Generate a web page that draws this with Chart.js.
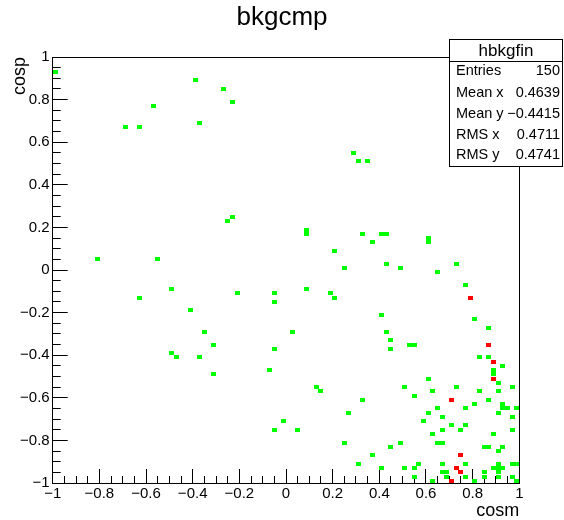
<!DOCTYPE html>
<html>
<head>
<meta charset="utf-8">
<script src="https://cdn.jsdelivr.net/npm/chart.js@4.4.1/dist/chart.umd.min.js"></script>
<style>
  html, body { margin: 0; padding: 0; background: #fff; }
</style>
</head>
<body>
<canvas id="chart" width="564" height="520"></canvas>
<script>
// Filled bins of hbkgfin (bin centres, 0.02 wide) - one entry
const greenCosm = [
  -0.99, -0.39, -0.27, -0.23, -0.57, -0.69, -0.63, -0.37, -0.25, -0.23,
  -0.81, -0.55, -0.49, -0.63, -0.21, -0.05, -0.05, -0.41, -0.35, -0.31,
  -0.49, -0.47, -0.37, -0.05, -0.31, -0.07, -0.05,
  0.29, 0.31, 0.35, 0.09, 0.09, 0.33, 0.41, 0.43, 0.37, 0.61, 0.61,
  0.21, 0.25, 0.43, 0.49, 0.65, 0.73, 0.77, 0.09, 0.19, 0.21,
  0.41, 0.81, 0.87, 0.43, 0.45, 0.45, 0.53, 0.55, 0.83, 0.87, 0.93,
  0.89, 0.89, 0.91, 0.61, 0.51, 0.73, 0.97, 0.55, 0.63, 0.83, 0.91,
  0.87, 0.81, 0.93, 0.93, 0.95, 0.99, 0.65, 0.77, 0.61, 0.91,
  0.67, 0.97, 0.59, 0.71, 0.77, 0.67, 0.75, 0.97, 0.63, 0.89,
  0.49, 0.65, 0.67, 0.45, 0.85, 0.87, 0.93, 0.91, 0.37,
  0.57, 0.67, 0.77, 0.91, 0.97, 0.99, 0.41, 0.51, 0.55, 0.89, 0.91, 0.93,
  0.77, 0.55, 0.63, 0.81, 0.85, 0.85, 0.91, 0.91, 0.97, 0.99,
  0.03, 0.13, 0.15, 0.33, 0.27, -0.01, 0.05, 0.25, 0.31,
  0.67, 0.69, 0.69
];
const greenCosp = [
  0.93, 0.89, 0.85, 0.79, 0.77, 0.67, 0.67, 0.69, 0.23, 0.25,
  0.05, 0.05, -0.09, -0.13, -0.11, -0.11, -0.15, -0.19, -0.29, -0.35,
  -0.39, -0.41, -0.41, -0.37, -0.49, -0.47, -0.75,
  0.55, 0.51, 0.51, 0.19, 0.17, 0.17, 0.17, 0.17, 0.13, 0.15, 0.13,
  0.09, 0.01, 0.03, 0.01, -0.01, 0.03, -0.07, -0.09, -0.11, -0.13,
  -0.21, -0.23, -0.27, -0.29, -0.33, -0.37, -0.35, -0.35, -0.41, -0.41, -0.45,
  -0.47, -0.49, -0.53, -0.51, -0.55, -0.55, -0.55, -0.59, -0.57, -0.57, -0.57,
  -0.61, -0.63, -0.63, -0.65, -0.65, -0.65, -0.65, -0.65, -0.67, -0.67,
  -0.69, -0.69, -0.71, -0.73, -0.73, -0.75, -0.75, -0.75, -0.77, -0.77,
  -0.81, -0.81, -0.81, -0.83, -0.83, -0.83, -0.83, -0.85, -0.87,
  -0.91, -0.91, -0.91, -0.91, -0.91, -0.91, -0.93, -0.93, -0.93, -0.93, -0.93, -0.93,
  -0.97, -0.97, -0.99, -0.99, -0.95, -0.97, -0.95, -0.97, -0.97, -0.99,
  -0.29, -0.55, -0.57, -0.61, -0.67, -0.71, -0.75, -0.81, -0.91,
  -0.95, -0.95, -0.97
];

// Bins with two entries
const redCosm = [0.79, 0.87, 0.89, 0.89, 0.71, 0.75, 0.73, 0.75, 0.71];
const redCosp = [-0.13, -0.35, -0.43, -0.51, -0.61, -0.87, -0.93, -0.95, -0.99];

// Stats box
const statLabels = ['Entries', 'Mean x', 'Mean y', 'RMS x', 'RMS y'];
const statValues = ['150', '0.4639', '\u22120.4415', '0.4711', '0.4741'];

const FONT = "'Liberation Sans', Arial, Helvetica, sans-serif";

function toPoints(xs, ys) {
    return xs.map((x, i) => ({ x: x, y: ys[i] }));
}

// one histogram bin drawn as a small filled box
function cellImage(color) {
    const c = document.createElement('canvas');
    c.width = 5;
    c.height = 4;
    const g = c.getContext('2d');
    g.fillStyle = color;
    g.fillRect(0, 0, 5, 4);
    return c;
}

function fmtTick(v) {
    const r = Math.round(v * 10) / 10;
    return r < 0 ? '\u2212' + String(-r) : String(r === 0 ? 0 : r);
}

const statsBox = {
    id: 'statsBox',
    afterDraw(chart) {
        const ctx = chart.ctx;
        const left = 449.5, top = 39.5, right = 562.5, bottom = 166.5;
        ctx.save();
        ctx.fillStyle = '#fff';
        ctx.fillRect(left, top, right - left, bottom - top);
        ctx.strokeStyle = '#000';
        ctx.lineWidth = 1;
        ctx.strokeRect(left, top, right - left, bottom - top);
        ctx.beginPath();
        ctx.moveTo(left, 61.5);
        ctx.lineTo(right, 61.5);
        ctx.stroke();

        ctx.fillStyle = '#000';
        ctx.textBaseline = 'middle';
        ctx.textAlign = 'center';
        ctx.font = '17px ' + FONT;
        ctx.fillText('hbkgfin', (left + right) / 2, 51);

        ctx.font = '14.5px ' + FONT;
        const rows = [71, 92.5, 113.5, 134.5, 155];
        statLabels.forEach((lab, i) => {
            ctx.textAlign = 'left';
            ctx.fillText(lab, 456, rows[i]);
            ctx.textAlign = 'right';
            ctx.fillText(statValues[i], 560, rows[i]);
        });
        ctx.restore();
    }
};

const minorX = {
    type: 'linear', position: 'bottom', axis: 'x', min: -1, max: 1, weight: 0,
    ticks: { display: false, stepSize: 0.05 },
    grid: { drawOnChartArea: false, drawTicks: true, tickLength: -7, tickColor: '#000', tickWidth: 1 },
    border: { display: false },
    afterFit: s => { s.height = 0; }
};
const minorY = {
    type: 'linear', position: 'left', axis: 'y', min: -1, max: 1, weight: 0,
    ticks: { display: false, stepSize: 0.05 },
    grid: { drawOnChartArea: false, drawTicks: true, tickLength: -8, tickColor: '#000', tickWidth: 1 },
    border: { display: false },
    afterFit: s => { s.width = 0; }
};

new Chart(document.getElementById('chart'), {
    type: 'scatter',
    data: {
        datasets: [
            {
                label: '1',
                data: toPoints(greenCosm, greenCosp),
                pointStyle: cellImage('#00ff00'),
                pointRadius: 3,
                pointHoverRadius: 3
            },
            {
                label: '2',
                data: toPoints(redCosm, redCosp),
                pointStyle: cellImage('#ff0000'),
                pointRadius: 3,
                pointHoverRadius: 3
            }
        ]
    },
    options: {
        responsive: false,
        animation: false,
        events: [],
        devicePixelRatio: 1,
        layout: { padding: 0 },
        plugins: {
            legend: { display: false },
            tooltip: { enabled: false },
            title: {
                display: true,
                text: 'bkgcmp',
                color: '#000',
                font: { family: FONT, size: 26, weight: 'normal', lineHeight: 1.2 },
                padding: { top: 2, bottom: 23.8 }
            }
        },
        scales: {
            xMinor: minorX,
            x: {
                type: 'linear', position: 'bottom', min: -1, max: 1, weight: 1,
                ticks: {
                    stepSize: 0.2, autoSkip: false, maxRotation: 0, padding: 16,
                    color: '#000', font: { family: FONT, size: 15 }, callback: fmtTick
                },
                grid: { drawOnChartArea: false, drawTicks: true, tickLength: -14, tickColor: '#000', tickWidth: 1 },
                border: { display: true, color: '#000', width: 1 },
                title: {
                    display: true, text: 'cosm', align: 'end', color: '#000',
                    font: { family: FONT, size: 18, lineHeight: 1 },
                    padding: { top: 0, bottom: 0 }
                },
                afterFit: s => { s.height = 37; }
            },
            yMinor: minorY,
            y: {
                type: 'linear', position: 'left', min: -1, max: 1, weight: 1,
                ticks: {
                    stepSize: 0.2, autoSkip: false, padding: 18,
                    color: '#000', font: { family: FONT, size: 15 }, callback: fmtTick
                },
                grid: { drawOnChartArea: false, drawTicks: true, tickLength: -15, tickColor: '#000', tickWidth: 1 },
                border: { display: true, color: '#000', width: 1 },
                title: {
                    display: true, text: 'cosp', align: 'end', color: '#000',
                    font: { family: FONT, size: 18, lineHeight: 1 },
                    padding: { top: 11.5, bottom: 0 }
                },
                afterFit: s => { s.width = 52.7; }
            },
            // frame on the top and right sides
            xTop: {
                type: 'linear', position: 'top', axis: 'x', min: -1, max: 1,
                ticks: { display: false }, grid: { display: false },
                border: { display: true, color: '#000', width: 1 },
                afterFit: s => { s.height = 0; }
            },
            yRight: {
                type: 'linear', position: 'right', axis: 'y', min: -1, max: 1,
                ticks: { display: false }, grid: { display: false },
                border: { display: true, color: '#000', width: 1 },
                afterFit: s => { s.width = 44.7; }
            }
        }
    },
    plugins: [statsBox]
});
</script>
</body>
</html>
